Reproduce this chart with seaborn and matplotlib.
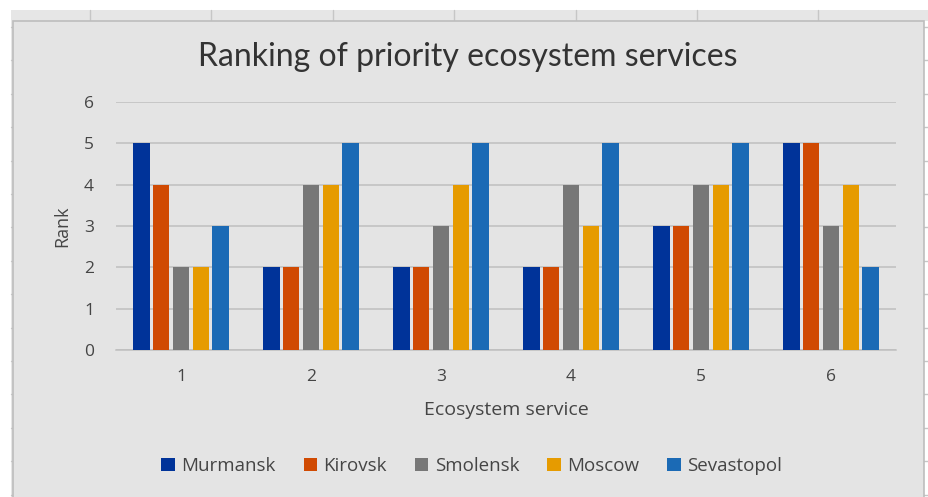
import matplotlib
matplotlib.use("Agg")
import matplotlib.pyplot as plt
from matplotlib.patches import Rectangle
from matplotlib.lines import Line2D
import pandas as pd
import seaborn as sns

# Data
services = ["1", "2", "3", "4", "5", "6"]
cities = ["Murmansk", "Kirovsk", "Smolensk", "Moscow", "Sevastopol"]
murmansk = [5, 2, 2, 2, 3, 5]
kirovsk = [4, 2, 2, 2, 3, 5]
smolensk = [2, 4, 3, 4, 4, 3]
moscow = [2, 4, 4, 3, 4, 4]
sevastopol = [3, 5, 5, 5, 5, 2]
colors = ["#003399", "#d04a02", "#777777", "#e69b00", "#1b6ab5"]

series = [murmansk, kirovsk, smolensk, moscow, sevastopol]
df = pd.DataFrame(
    [(s, c, v) for c, vals in zip(cities, series) for s, v in zip(services, vals)],
    columns=["service", "city", "rank"],
)

sns.set_theme(style="white")
plt.rcParams["font.family"] = ["Open Sans", "DejaVu Sans"]

W, H = 929, 497
fig = plt.figure(figsize=(W / 100, H / 100), dpi=100)
fig.patch.set_facecolor("white")


def fx(x):
    return x / W


def fy(y):
    return 1 - y / H


# Worksheet frame behind the chart
grid_c = "#c6c6c6"
fig.add_artist(Rectangle((fx(11), fy(20.5)), fx(W - 11), 10 / H,
                         transform=fig.transFigure, facecolor="#e6e6e6",
                         edgecolor="none", zorder=0))
fig.add_artist(Rectangle((fx(11), 0), fx(3), fy(10),
                         transform=fig.transFigure, facecolor="#e6e6e6",
                         edgecolor="none", zorder=0))
for xc in [90, 211, 333, 454, 576, 697, 818]:
    fig.add_artist(Line2D([fx(xc), fx(xc)], [fy(10), fy(20.5)],
                          transform=fig.transFigure, color=grid_c, lw=1, zorder=0))
for k in range(15):
    yr = 27 + k * 33.4
    fig.add_artist(Line2D([fx(11), fx(13.5)], [fy(yr), fy(yr)],
                          transform=fig.transFigure, color=grid_c, lw=1, zorder=0))
    fig.add_artist(Line2D([fx(924), fx(W)], [fy(yr), fy(yr)],
                          transform=fig.transFigure, color=grid_c, lw=1, zorder=0))

# Chart area
fig.add_artist(Rectangle((fx(13.5), -0.01), fx(924 - 13.5), fy(20.5) + 0.01,
                         transform=fig.transFigure, facecolor="#e4e4e4",
                         edgecolor="#bdbdbd", lw=1.2, zorder=0.5))

ax = fig.add_axes([fx(116), fy(350), fx(896 - 116), (350 - 102) / H])
ax.set_facecolor("none")
ax.set_zorder(2)

sns.barplot(data=df, x="service", y="rank", hue="city", order=services,
            hue_order=cities, palette=colors, saturation=1, width=0.765,
            gap=0.16, linewidth=0, ax=ax, zorder=3)

text_c = "#454545"
ax.set_ylim(0, 6)
ax.set_yticks(range(0, 7))
ax.set_xlim(-0.5, 5.5)
ax.yaxis.grid(True, color="#bfbfbf", lw=1.1)
ax.set_axisbelow(True)
for sp in ["top", "right", "left"]:
    ax.spines[sp].set_visible(False)
ax.spines["bottom"].set_color("#bfbfbf")
ax.spines["bottom"].set_linewidth(1.1)
ax.tick_params(axis="both", length=0, labelsize=12.5, labelcolor=text_c)
ax.tick_params(axis="y", pad=15.8)
ax.tick_params(axis="x", pad=14)
ax.set_xlabel("Ecosystem service", fontsize=14, color=text_c, labelpad=11)
ax.set_ylabel("Rank", fontsize=13, color=text_c, labelpad=9)

fig.text(0.504, fy(57), "Ranking of priority ecosystem services",
         ha="center", va="center", fontsize=23, color="#333333",
         family=["Lato", "DejaVu Sans"])

handles, labels = ax.get_legend_handles_labels()
ax.get_legend().remove()
fig.legend(handles, labels, loc="center", bbox_to_anchor=(471.5 / W, fy(466)),
           ncol=5, frameon=False, fontsize=13.5, labelcolor=text_c,
           handlelength=0.72, handleheight=0.72, handletextpad=0.33,
           columnspacing=1.5)

fig.savefig("out.png", dpi=100, facecolor="white")
